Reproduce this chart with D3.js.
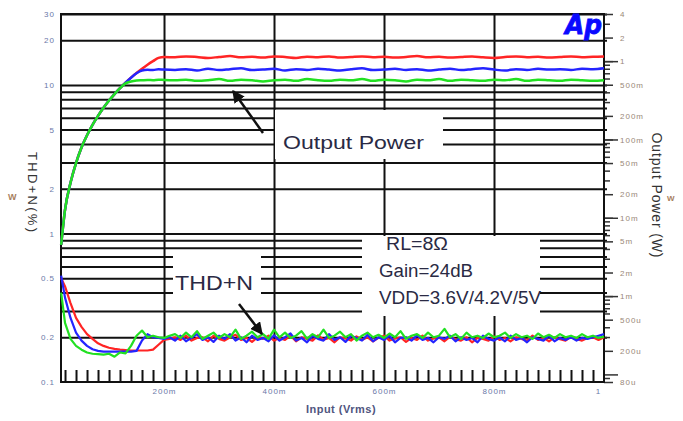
<!DOCTYPE html>
<html><head><meta charset="utf-8">
<script src="https://cdn.jsdelivr.net/npm/d3@7/dist/d3.min.js"></script>
<style>body{margin:0;background:#fff}svg{display:block;font-family:"Liberation Sans",Arial,sans-serif}</style>
</head><body><svg id="c" width="683" height="421"></svg>
<script>
// ---- data ----
const xTicks = [0.2, 0.4, 0.6, 0.8, 1];
const xTickLabels = ["200m", "400m", "600m", "800m", "1"];
const xMinorTicks = [0.02,0.04,0.06,0.08,0.1,0.12,0.14,0.16,0.18,0.22,0.24,0.26,0.28,0.3,0.32,0.34,0.36,0.38,0.42,0.44,0.46,0.48,0.5,0.52,0.54,0.56,0.58,0.62,0.64,0.66,0.68,0.7,0.72,0.74,0.76,0.78,0.82,0.84,0.86,0.88,0.9,0.92,0.94,0.96,0.98];
const leftTicks = [30, 20, 10, 5, 2, 1, 0.5, 0.2, 0.1];
const leftTickLabels = ["30", "20", "10", "5", "2", "1", "0.5", "0.2", "0.1"];
const leftGrid = [30, 20, 10, 9, 8, 7, 6, 5, 4, 3, 2, 1, 0.9, 0.8, 0.7, 0.6, 0.5, 0.4, 0.3, 0.2];
const rightTicks = [4, 2, 1, 0.5, 0.2, 0.1, 0.05, 0.02, 0.01, 0.005, 0.002, 0.001, 0.0005, 0.0002, 0.00008];
const rightTickLabels = ["4", "2", "1", "500m", "200m", "100m", "50m", "20m", "10m", "5m", "2m", "1m", "500u", "200u", "80u"];
const rightDecades = [1, 0.1, 0.01, 0.001, 0.0001];
const rightMinor = [3,0.9,0.8,0.7,0.6,0.4,0.3,0.09,0.08,0.07,0.06,0.04,0.03,0.009,0.008,0.007,0.006,0.004,0.003,0.0009,0.0008,0.0007,0.0006,0.0004,0.0003,0.00009];

const thdX = [0.013,0.02,0.03,0.04,0.05,0.06,0.07,0.08,0.09,0.10,0.11,0.12,0.13,0.14,0.15,0.16,0.17,0.18,0.19,0.20,
0.21,0.22,0.23,0.24,0.25,0.26,0.27,0.28,0.29,0.30,0.31,0.32,0.33,0.34,0.35,0.36,0.37,0.38,0.39,0.40,
0.41,0.42,0.43,0.44,0.45,0.46,0.47,0.48,0.49,0.50,0.51,0.52,0.53,0.54,0.55,0.56,0.57,0.58,0.59,0.60,
0.61,0.62,0.63,0.64,0.65,0.66,0.67,0.68,0.69,0.70,0.71,0.72,0.73,0.74,0.75,0.76,0.77,0.78,0.79,0.80,
0.81,0.82,0.83,0.84,0.85,0.86,0.87,0.88,0.89,0.90,0.91,0.92,0.93,0.94,0.95,0.96,0.97,0.98,0.99,1.00];
const thdRed = [0.50,0.44,0.34,0.27,0.235,0.21,0.195,0.182,0.175,0.17,0.167,0.165,0.164,0.163,0.163,0.163,0.163,0.165,0.178,0.192,
0.195,0.2,0.192,0.205,0.19,0.198,0.2,0.188,0.205,0.195,0.19,0.2,0.208,0.192,0.198,0.186,0.2,0.195,0.205,0.19,
0.198,0.192,0.205,0.188,0.2,0.195,0.19,0.206,0.193,0.198,0.185,0.2,0.196,0.19,0.203,0.192,0.2,0.188,0.198,0.205,
0.19,0.196,0.2,0.186,0.198,0.192,0.205,0.19,0.196,0.2,0.188,0.202,0.194,0.19,0.2,0.185,0.198,0.195,0.19,0.203,
0.192,0.198,0.188,0.2,0.195,0.19,0.205,0.192,0.198,0.188,0.2,0.194,0.19,0.202,0.195,0.19,0.198,0.2,0.192,0.2];
const thdBlue = [0.52,0.37,0.27,0.215,0.19,0.175,0.166,0.162,0.16,0.16,0.16,0.16,0.16,0.16,0.162,0.19,0.21,0.2,0.198,0.195,
0.2,0.19,0.205,0.188,0.198,0.21,0.192,0.2,0.186,0.205,0.195,0.21,0.19,0.2,0.185,0.205,0.192,0.198,0.188,0.206,
0.19,0.2,0.212,0.19,0.198,0.185,0.205,0.195,0.19,0.21,0.192,0.2,0.186,0.205,0.198,0.19,0.208,0.188,0.2,0.192,
0.205,0.185,0.198,0.2,0.19,0.206,0.192,0.198,0.185,0.2,0.195,0.205,0.188,0.2,0.192,0.198,0.185,0.205,0.195,0.19,
0.2,0.188,0.205,0.192,0.198,0.185,0.2,0.195,0.19,0.205,0.188,0.198,0.192,0.2,0.19,0.198,0.195,0.2,0.205,0.21];
const thdGreen = [0.40,0.25,0.195,0.175,0.165,0.158,0.155,0.154,0.153,0.155,0.148,0.158,0.156,0.175,0.205,0.222,0.2,0.205,0.2,0.198,
0.205,0.21,0.198,0.215,0.2,0.22,0.195,0.205,0.215,0.198,0.21,0.2,0.225,0.195,0.205,0.218,0.2,0.21,0.195,0.225,
0.2,0.215,0.198,0.205,0.22,0.196,0.21,0.2,0.225,0.198,0.205,0.218,0.2,0.21,0.19,0.205,0.215,0.2,0.208,0.198,
0.212,0.2,0.22,0.195,0.205,0.21,0.198,0.215,0.2,0.205,0.228,0.2,0.21,0.195,0.215,0.2,0.205,0.198,0.212,0.2,
0.205,0.215,0.198,0.21,0.2,0.205,0.195,0.212,0.2,0.208,0.198,0.21,0.2,0.205,0.198,0.21,0.2,0.205,0.198,0.202];

const powX = [0.013,0.02,0.03,0.04,0.05,0.06,0.07,0.08,0.09,0.10,0.11,0.12,0.13,0.14,0.15,0.16,0.17,0.18,0.19,0.20,
0.22,0.24,0.26,0.28,0.30,0.32,0.34,0.36,0.38,0.40,0.42,0.44,0.46,0.48,0.50,0.52,0.54,0.56,0.58,0.60,
0.62,0.64,0.66,0.68,0.70,0.72,0.74,0.76,0.78,0.80,0.82,0.84,0.86,0.88,0.90,0.92,0.94,0.96,0.98,1.00];
const powRed = [0.0045,0.0126,0.028,0.05,0.079,0.113,0.154,0.2,0.254,0.314,0.38,0.452,0.53,0.615,0.706,0.8,0.9,1.0,1.1,1.13,
1.12,1.15,1.13,1.10,1.13,1.16,1.12,1.14,1.11,1.15,1.13,1.10,1.14,1.12,1.15,1.11,1.13,1.15,1.12,1.14,
1.11,1.13,1.16,1.12,1.14,1.11,1.13,1.15,1.12,1.10,1.13,1.15,1.12,1.14,1.11,1.13,1.15,1.12,1.14,1.15];
const powBlue = [0.0045,0.0126,0.028,0.05,0.079,0.113,0.154,0.2,0.254,0.314,0.38,0.452,0.53,0.615,0.7,0.76,0.775,0.77,0.79,0.78,
0.77,0.79,0.76,0.80,0.77,0.79,0.81,0.77,0.78,0.80,0.76,0.79,0.77,0.80,0.78,0.76,0.79,0.81,0.77,0.78,
0.80,0.77,0.79,0.76,0.78,0.80,0.77,0.79,0.81,0.78,0.76,0.79,0.77,0.80,0.78,0.79,0.77,0.80,0.79,0.81];
const powGreen = [0.0045,0.0126,0.028,0.05,0.079,0.113,0.154,0.2,0.254,0.314,0.38,0.452,0.52,0.55,0.565,0.57,0.575,0.57,0.58,0.575,
0.57,0.58,0.56,0.57,0.59,0.56,0.58,0.57,0.55,0.57,0.58,0.56,0.59,0.57,0.56,0.58,0.57,0.59,0.56,0.58,
0.57,0.55,0.58,0.57,0.59,0.56,0.58,0.57,0.56,0.58,0.57,0.59,0.56,0.58,0.57,0.56,0.58,0.57,0.56,0.57];

const seriesColors = {red: "#ff2424", blue: "#2424ff", green: "#22e022"};
const notes = ["RL=8\u03A9", "Gain=24dB", "VDD=3.6V/4.2V/5V"];

// ---- drawing ----
const svg = d3.select("#c");
const L = 61, R = 604, T = 14, B = 382;
const x = d3.scaleLinear().domain([0.0127, 1]).range([L, R]);
const yL = d3.scaleLog().domain([0.1, 30]).range([B, T]);
const yR = d3.scaleLog().domain([0.00008, 4]).range([B, T]);

// horizontal grid
const hg = svg.append("g").attr("transform", `translate(${L},0)`)
  .call(d3.axisLeft(yL).tickValues(leftGrid).tickSize(-(R - L + 3)).tickFormat(""));
hg.select(".domain").remove();
hg.selectAll("line").attr("stroke", "#111").attr("stroke-width", 2);
// vertical grid
const vg = svg.append("g").attr("transform", `translate(0,${B})`)
  .call(d3.axisBottom(x).tickValues([0.2, 0.4, 0.6, 0.8]).tickSize(-(B - T)).tickFormat(""));
vg.select(".domain").remove();
vg.selectAll("line").attr("stroke", "#111").attr("stroke-width", 2);

// white label boxes
const boxes = [[275, 110, 168, 49], [173, 250, 88, 51], [362, 236, 178, 80]];
svg.selectAll("rect.box").data(boxes).enter().append("rect")
  .attr("x", d => d[0]).attr("y", d => d[1]).attr("width", d => d[2]).attr("height", d => d[3]).attr("fill", "#fff");

// bottom minor ticks
const mt = svg.append("g").attr("transform", `translate(0,${B})`)
  .call(d3.axisBottom(x).tickValues(xMinorTicks).tickSize(-12).tickFormat(""));
mt.select(".domain").remove();
mt.selectAll("line").attr("stroke", "#111").attr("stroke-width", 2);

// bottom labels
const bl = svg.append("g").attr("transform", `translate(0,${B})`)
  .call(d3.axisBottom(x).tickValues(xTicks).tickSize(0).tickPadding(6).tickFormat((d, i) => xTickLabels[i]));
bl.select(".domain").remove();
bl.selectAll("text").attr("fill", "#6a78a8").attr("font-size", 8).attr("letter-spacing", 1)
  .attr("font-family", "Liberation Sans, Arial").attr("dx", (d, i) => i === xTicks.length - 1 ? -6 : 0);

// left labels
const ll = svg.append("g").attr("transform", `translate(${L},0)`)
  .call(d3.axisLeft(yL).tickValues(leftTicks).tickSize(0).tickPadding(6).tickFormat((d, i) => leftTickLabels[i]));
ll.select(".domain").remove();
ll.selectAll("text").attr("fill", "#6a78a8").attr("font-size", 8).attr("letter-spacing", 1).attr("font-family", "Liberation Sans, Arial");

// right ticks
function rAxis(vals, size, fmt) {
  const g = svg.append("g").attr("transform", `translate(${R},0)`)
    .call(d3.axisRight(yR).tickValues(vals).tickSize(size).tickPadding(fmt ? 16 - size : 0).tickFormat(fmt || ""));
  g.select(".domain").remove();
  g.selectAll("line").attr("stroke", "#333").attr("stroke-width", 1.5);
  return g;
}
rAxis(rightMinor, 6);
rAxis(rightDecades, 14);
const rl = rAxis(rightTicks, 9, (d, i) => rightTickLabels[i]);
rl.selectAll("text").attr("fill", "#9a8878").attr("font-size", 8).attr("letter-spacing", 1).attr("font-family", "Liberation Sans, Arial");

// plot frame
svg.append("rect").attr("x", L).attr("y", T).attr("width", R - L).attr("height", B - T)
  .attr("fill", "none").attr("stroke", "#111").attr("stroke-width", 2);

// curves
const powLine = d3.line().x((d, i) => x(powX[i])).y(d => yR(d)).curve(d3.curveMonotoneX);
const thdLine = d3.line().x((d, i) => x(thdX[i])).y(d => yL(d));
[[powRed, "red"], [powBlue, "blue"], [powGreen, "green"]].forEach(([s, c]) =>
  svg.append("path").attr("d", powLine(s)).attr("fill", "none").attr("stroke", seriesColors[c]).attr("stroke-width", 2.5));
[[thdRed, "red"], [thdBlue, "blue"], [thdGreen, "green"]].forEach(([s, c]) =>
  svg.append("path").attr("d", thdLine(s)).attr("fill", "none").attr("stroke", seriesColors[c]).attr("stroke-width", 2.2).attr("stroke-linejoin", "round"));

// arrows
svg.append("defs").append("marker").attr("id", "ah").attr("viewBox", "0 0 10 10").attr("refX", 9).attr("refY", 5)
  .attr("markerWidth", 5).attr("markerHeight", 5).attr("orient", "auto")
  .append("path").attr("d", "M0,0L10,5L0,10z").attr("fill", "#111");
[[263, 133, 233, 91], [239, 304, 262, 334]].forEach(a =>
  svg.append("line").attr("x1", a[0]).attr("y1", a[1]).attr("x2", a[2]).attr("y2", a[3])
    .attr("stroke", "#111").attr("stroke-width", 2.5).attr("marker-end", "url(#ah)"));

// annotation texts
svg.append("text").attr("x", 283).attr("y", 149).attr("font-size", 19).attr("fill", "#2a2a44")
  .attr("textLength", 141).attr("lengthAdjust", "spacingAndGlyphs").text("Output Power");
svg.append("text").attr("x", 175).attr("y", 290).attr("font-size", 21).attr("fill", "#2a2a44")
  .attr("textLength", 78).attr("lengthAdjust", "spacingAndGlyphs").text("THD+N");
svg.selectAll("text.note").data(notes).enter().append("text")
  .attr("x", (d, i) => i === 0 ? 386 : 379).attr("y", (d, i) => 250 + i * 27)
  .attr("font-size", 18).attr("fill", "#2a2a44").attr("textLength", (d, i) => [62, 94, 162][i])
  .attr("lengthAdjust", "spacingAndGlyphs").text(d => d);

// logo
svg.append("text").attr("x", 565).attr("y", 34).attr("font-size", 26).attr("font-weight", "bold")
  .attr("font-style", "italic").attr("font-family", "DejaVu Sans").attr("fill", "#0a0aff")
  .attr("stroke", "#0a0aff").attr("stroke-width", 0.8).attr("textLength", 37).attr("lengthAdjust", "spacingAndGlyphs").text("Ap");

// axis titles
svg.append("text").attr("transform", "translate(28,192) rotate(90)").attr("text-anchor", "middle")
  .attr("font-size", 13).attr("fill", "#333").attr("textLength", 80).attr("lengthAdjust", "spacing").text("THD+N(%)");
svg.append("text").attr("transform", "translate(652,195) rotate(90)").attr("text-anchor", "middle")
  .attr("font-size", 14).attr("fill", "#333").attr("textLength", 125).attr("lengthAdjust", "spacing").text("Output Power (W)");
svg.append("text").attr("x", 341).attr("y", 413).attr("text-anchor", "middle").attr("font-size", 11)
  .attr("font-weight", "bold").attr("fill", "#505580").attr("letter-spacing", 0.5).text("Input (Vrms)");
svg.append("text").attr("x", 8).attr("y", 200).attr("font-size", 9).attr("font-weight", "bold").attr("fill", "#a88060").text("W");
svg.append("text").attr("x", 667).attr("y", 201).attr("font-size", 8).attr("font-weight", "bold").attr("fill", "#a88060").text("W");
</script></body></html>
